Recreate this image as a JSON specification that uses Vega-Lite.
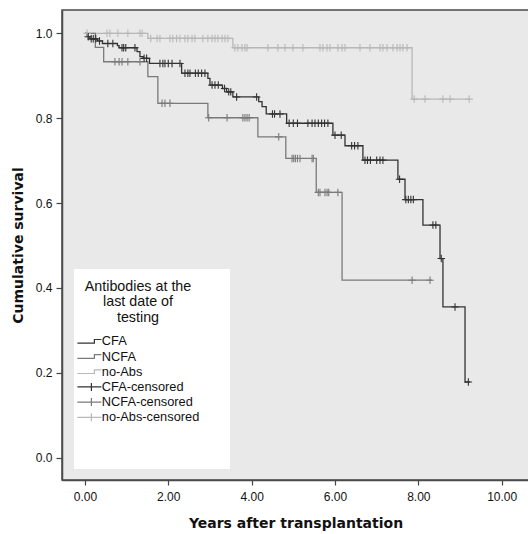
{
  "$schema": "https://vega.github.io/schema/vega-lite/v6.json",
  "width": 467,
  "height": 470,
  "autosize": {"type": "none"},
  "padding": {"left": 62, "top": 10, "right": 0, "bottom": 54},
  "background": "white",
  "config": {
    "view": {"fill": "#e9e9e9", "stroke": "#4a4a4a", "strokeWidth": 1.5},
    "font": "Liberation Sans"
  },
  "datasets": {
    "steps": [
      {"g": "no-Abs", "t": 0, "s": 1}, {"g": "no-Abs", "t": 1.51, "s": 0.988}, {"g": "no-Abs", "t": 3.55, "s": 0.966}, {"g": "no-Abs", "t": 7.85, "s": 0.845}, {"g": "no-Abs", "t": 9.22, "s": 0.845},
      {"g": "NCFA", "t": 0, "s": 1}, {"g": "NCFA", "t": 0.25, "s": 0.967}, {"g": "NCFA", "t": 0.45, "s": 0.933}, {"g": "NCFA", "t": 1.51, "s": 0.898}, {"g": "NCFA", "t": 1.75, "s": 0.835}, {"g": "NCFA", "t": 2.95, "s": 0.801}, {"g": "NCFA", "t": 4.15, "s": 0.756}, {"g": "NCFA", "t": 4.82, "s": 0.705}, {"g": "NCFA", "t": 5.55, "s": 0.625}, {"g": "NCFA", "t": 6.17, "s": 0.418}, {"g": "NCFA", "t": 8.33, "s": 0.418},
      {"g": "CFA", "t": 0, "s": 1}, {"g": "CFA", "t": 0.05, "s": 0.992}, {"g": "CFA", "t": 0.12, "s": 0.987}, {"g": "CFA", "t": 0.3, "s": 0.982}, {"g": "CFA", "t": 0.42, "s": 0.976}, {"g": "CFA", "t": 0.78, "s": 0.971}, {"g": "CFA", "t": 0.82, "s": 0.966}, {"g": "CFA", "t": 1.25, "s": 0.957}, {"g": "CFA", "t": 1.32, "s": 0.945}, {"g": "CFA", "t": 1.4, "s": 0.941}, {"g": "CFA", "t": 1.55, "s": 0.929}, {"g": "CFA", "t": 2.32, "s": 0.906}, {"g": "CFA", "t": 2.95, "s": 0.894}, {"g": "CFA", "t": 3.0, "s": 0.878}, {"g": "CFA", "t": 3.3, "s": 0.87}, {"g": "CFA", "t": 3.4, "s": 0.862}, {"g": "CFA", "t": 3.55, "s": 0.85}, {"g": "CFA", "t": 4.17, "s": 0.839}, {"g": "CFA", "t": 4.25, "s": 0.827}, {"g": "CFA", "t": 4.35, "s": 0.81}, {"g": "CFA", "t": 4.84, "s": 0.788}, {"g": "CFA", "t": 5.95, "s": 0.76}, {"g": "CFA", "t": 6.24, "s": 0.735}, {"g": "CFA", "t": 6.67, "s": 0.701}, {"g": "CFA", "t": 7.51, "s": 0.656}, {"g": "CFA", "t": 7.68, "s": 0.608}, {"g": "CFA", "t": 8.11, "s": 0.548}, {"g": "CFA", "t": 8.52, "s": 0.469}, {"g": "CFA", "t": 8.59, "s": 0.355}, {"g": "CFA", "t": 9.12, "s": 0.178}, {"g": "CFA", "t": 9.24, "s": 0.178}
    ],
    "censors": [
      {"g": "no-Abs-censored", "t": 0.05, "s": 1}, {"g": "no-Abs-censored", "t": 0.53, "s": 1}, {"g": "no-Abs-censored", "t": 0.6, "s": 1}, {"g": "no-Abs-censored", "t": 0.79, "s": 1}, {"g": "no-Abs-censored", "t": 1.03, "s": 1}, {"g": "no-Abs-censored", "t": 1.32, "s": 1}, {"g": "no-Abs-censored", "t": 1.37, "s": 1},
      {"g": "no-Abs-censored", "t": 1.58, "s": 0.988}, {"g": "no-Abs-censored", "t": 1.73, "s": 0.988}, {"g": "no-Abs-censored", "t": 1.8, "s": 0.988}, {"g": "no-Abs-censored", "t": 2.04, "s": 0.988}, {"g": "no-Abs-censored", "t": 2.11, "s": 0.988}, {"g": "no-Abs-censored", "t": 2.2, "s": 0.988}, {"g": "no-Abs-censored", "t": 2.28, "s": 0.988}, {"g": "no-Abs-censored", "t": 2.4, "s": 0.988}, {"g": "no-Abs-censored", "t": 2.47, "s": 0.988}, {"g": "no-Abs-censored", "t": 2.57, "s": 0.988}, {"g": "no-Abs-censored", "t": 2.64, "s": 0.988}, {"g": "no-Abs-censored", "t": 2.83, "s": 0.988}, {"g": "no-Abs-censored", "t": 2.95, "s": 0.988}, {"g": "no-Abs-censored", "t": 3.05, "s": 0.988}, {"g": "no-Abs-censored", "t": 3.12, "s": 0.988}, {"g": "no-Abs-censored", "t": 3.19, "s": 0.988}, {"g": "no-Abs-censored", "t": 3.29, "s": 0.988}, {"g": "no-Abs-censored", "t": 3.36, "s": 0.988}, {"g": "no-Abs-censored", "t": 3.43, "s": 0.988},
      {"g": "no-Abs-censored", "t": 3.6, "s": 0.966}, {"g": "no-Abs-censored", "t": 3.67, "s": 0.966}, {"g": "no-Abs-censored", "t": 3.77, "s": 0.966}, {"g": "no-Abs-censored", "t": 3.84, "s": 0.966}, {"g": "no-Abs-censored", "t": 3.89, "s": 0.966}, {"g": "no-Abs-censored", "t": 4.39, "s": 0.966}, {"g": "no-Abs-censored", "t": 4.63, "s": 0.966}, {"g": "no-Abs-censored", "t": 4.8, "s": 0.966}, {"g": "no-Abs-censored", "t": 4.99, "s": 0.966}, {"g": "no-Abs-censored", "t": 5.23, "s": 0.966}, {"g": "no-Abs-censored", "t": 5.64, "s": 0.966}, {"g": "no-Abs-censored", "t": 5.71, "s": 0.966}, {"g": "no-Abs-censored", "t": 5.81, "s": 0.966}, {"g": "no-Abs-censored", "t": 5.88, "s": 0.966}, {"g": "no-Abs-censored", "t": 6.07, "s": 0.966}, {"g": "no-Abs-censored", "t": 6.17, "s": 0.966}, {"g": "no-Abs-censored", "t": 6.24, "s": 0.966}, {"g": "no-Abs-censored", "t": 6.6, "s": 0.966}, {"g": "no-Abs-censored", "t": 6.84, "s": 0.966}, {"g": "no-Abs-censored", "t": 7.08, "s": 0.966}, {"g": "no-Abs-censored", "t": 7.15, "s": 0.966}, {"g": "no-Abs-censored", "t": 7.25, "s": 0.966}, {"g": "no-Abs-censored", "t": 7.39, "s": 0.966}, {"g": "no-Abs-censored", "t": 7.49, "s": 0.966}, {"g": "no-Abs-censored", "t": 7.56, "s": 0.966}, {"g": "no-Abs-censored", "t": 7.63, "s": 0.966}, {"g": "no-Abs-censored", "t": 7.73, "s": 0.966},
      {"g": "no-Abs-censored", "t": 7.9, "s": 0.845}, {"g": "no-Abs-censored", "t": 8.16, "s": 0.845}, {"g": "no-Abs-censored", "t": 8.59, "s": 0.845}, {"g": "no-Abs-censored", "t": 8.76, "s": 0.845}, {"g": "no-Abs-censored", "t": 9.22, "s": 0.845},
      {"g": "NCFA-censored", "t": 0.72, "s": 0.933}, {"g": "NCFA-censored", "t": 0.82, "s": 0.933}, {"g": "NCFA-censored", "t": 0.89, "s": 0.933}, {"g": "NCFA-censored", "t": 1.03, "s": 0.933}, {"g": "NCFA-censored", "t": 1.32, "s": 0.933},
      {"g": "NCFA-censored", "t": 1.85, "s": 0.835}, {"g": "NCFA-censored", "t": 1.92, "s": 0.835}, {"g": "NCFA-censored", "t": 2.04, "s": 0.835},
      {"g": "NCFA-censored", "t": 2.97, "s": 0.801}, {"g": "NCFA-censored", "t": 3.41, "s": 0.801}, {"g": "NCFA-censored", "t": 3.79, "s": 0.801}, {"g": "NCFA-censored", "t": 3.84, "s": 0.801}, {"g": "NCFA-censored", "t": 3.89, "s": 0.801}, {"g": "NCFA-censored", "t": 3.94, "s": 0.801},
      {"g": "NCFA-censored", "t": 4.65, "s": 0.756},
      {"g": "NCFA-censored", "t": 4.97, "s": 0.705}, {"g": "NCFA-censored", "t": 5.01, "s": 0.705}, {"g": "NCFA-censored", "t": 5.05, "s": 0.705}, {"g": "NCFA-censored", "t": 5.1, "s": 0.705}, {"g": "NCFA-censored", "t": 5.16, "s": 0.705}, {"g": "NCFA-censored", "t": 5.45, "s": 0.705}, {"g": "NCFA-censored", "t": 5.48, "s": 0.705},
      {"g": "NCFA-censored", "t": 5.6, "s": 0.625}, {"g": "NCFA-censored", "t": 5.64, "s": 0.625}, {"g": "NCFA-censored", "t": 5.76, "s": 0.625}, {"g": "NCFA-censored", "t": 5.81, "s": 0.625}, {"g": "NCFA-censored", "t": 5.85, "s": 0.625}, {"g": "NCFA-censored", "t": 6.07, "s": 0.625},
      {"g": "NCFA-censored", "t": 7.85, "s": 0.418}, {"g": "NCFA-censored", "t": 8.28, "s": 0.418},
      {"g": "CFA-censored", "t": 0.08, "s": 0.992}, {"g": "CFA-censored", "t": 0.15, "s": 0.987}, {"g": "CFA-censored", "t": 0.2, "s": 0.987}, {"g": "CFA-censored", "t": 0.26, "s": 0.987}, {"g": "CFA-censored", "t": 0.35, "s": 0.982}, {"g": "CFA-censored", "t": 0.55, "s": 0.976}, {"g": "CFA-censored", "t": 0.67, "s": 0.976}, {"g": "CFA-censored", "t": 0.89, "s": 0.966}, {"g": "CFA-censored", "t": 0.93, "s": 0.966}, {"g": "CFA-censored", "t": 0.98, "s": 0.966}, {"g": "CFA-censored", "t": 1.2, "s": 0.966}, {"g": "CFA-censored", "t": 1.42, "s": 0.941}, {"g": "CFA-censored", "t": 1.48, "s": 0.941},
      {"g": "CFA-censored", "t": 1.8, "s": 0.929}, {"g": "CFA-censored", "t": 1.87, "s": 0.929}, {"g": "CFA-censored", "t": 1.92, "s": 0.929}, {"g": "CFA-censored", "t": 2.0, "s": 0.929}, {"g": "CFA-censored", "t": 2.09, "s": 0.929}, {"g": "CFA-censored", "t": 2.28, "s": 0.929},
      {"g": "CFA-censored", "t": 2.4, "s": 0.906}, {"g": "CFA-censored", "t": 2.47, "s": 0.906}, {"g": "CFA-censored", "t": 2.52, "s": 0.906}, {"g": "CFA-censored", "t": 2.65, "s": 0.906}, {"g": "CFA-censored", "t": 2.72, "s": 0.906}, {"g": "CFA-censored", "t": 2.8, "s": 0.906}, {"g": "CFA-censored", "t": 2.88, "s": 0.906},
      {"g": "CFA-censored", "t": 3.05, "s": 0.878}, {"g": "CFA-censored", "t": 3.12, "s": 0.878}, {"g": "CFA-censored", "t": 3.2, "s": 0.878}, {"g": "CFA-censored", "t": 3.35, "s": 0.87}, {"g": "CFA-censored", "t": 3.45, "s": 0.862}, {"g": "CFA-censored", "t": 3.5, "s": 0.862}, {"g": "CFA-censored", "t": 3.64, "s": 0.85}, {"g": "CFA-censored", "t": 4.12, "s": 0.85},
      {"g": "CFA-censored", "t": 4.5, "s": 0.81}, {"g": "CFA-censored", "t": 4.55, "s": 0.81}, {"g": "CFA-censored", "t": 4.68, "s": 0.81},
      {"g": "CFA-censored", "t": 4.9, "s": 0.788}, {"g": "CFA-censored", "t": 5.0, "s": 0.788}, {"g": "CFA-censored", "t": 5.1, "s": 0.788}, {"g": "CFA-censored", "t": 5.35, "s": 0.788}, {"g": "CFA-censored", "t": 5.45, "s": 0.788}, {"g": "CFA-censored", "t": 5.52, "s": 0.788}, {"g": "CFA-censored", "t": 5.6, "s": 0.788}, {"g": "CFA-censored", "t": 5.68, "s": 0.788}, {"g": "CFA-censored", "t": 5.75, "s": 0.788}, {"g": "CFA-censored", "t": 5.83, "s": 0.788},
      {"g": "CFA-censored", "t": 6.0, "s": 0.76}, {"g": "CFA-censored", "t": 6.15, "s": 0.76}, {"g": "CFA-censored", "t": 6.4, "s": 0.735}, {"g": "CFA-censored", "t": 6.47, "s": 0.735}, {"g": "CFA-censored", "t": 6.55, "s": 0.735},
      {"g": "CFA-censored", "t": 6.72, "s": 0.701}, {"g": "CFA-censored", "t": 6.78, "s": 0.701}, {"g": "CFA-censored", "t": 6.85, "s": 0.701}, {"g": "CFA-censored", "t": 7.0, "s": 0.701}, {"g": "CFA-censored", "t": 7.08, "s": 0.701}, {"g": "CFA-censored", "t": 7.15, "s": 0.701},
      {"g": "CFA-censored", "t": 7.55, "s": 0.656}, {"g": "CFA-censored", "t": 7.7, "s": 0.608}, {"g": "CFA-censored", "t": 7.76, "s": 0.608}, {"g": "CFA-censored", "t": 7.82, "s": 0.608}, {"g": "CFA-censored", "t": 7.88, "s": 0.608},
      {"g": "CFA-censored", "t": 8.35, "s": 0.548}, {"g": "CFA-censored", "t": 8.42, "s": 0.548}, {"g": "CFA-censored", "t": 8.55, "s": 0.469}, {"g": "CFA-censored", "t": 8.88, "s": 0.355}, {"g": "CFA-censored", "t": 9.2, "s": 0.178}
    ]
  },
  "encoding": {
    "x": {
      "field": "t", "type": "quantitative",
      "scale": {"domain": [-0.55, 10.655], "nice": false, "zero": false},
      "axis": {
        "title": "Years after transplantation",
        "values": [0, 2, 4, 6, 8, 10], "format": ".2f", "grid": false,
        "labelFont": "Liberation Sans", "labelFontSize": 12, "labelColor": "#111111", "labelPadding": 6, "labelFlush": false,
        "tickSize": 5, "tickColor": "#444444", "tickWidth": 1.2,
        "domainColor": "#4a4a4a", "domainWidth": 1.5,
        "titleFont": "DejaVu Sans", "titleFontSize": 14, "titleFontWeight": "bold", "titleColor": "#111111", "titlePadding": 14
      }
    },
    "y": {
      "field": "s", "type": "quantitative",
      "scale": {"domain": [-0.053, 1.055], "nice": false, "zero": false},
      "axis": {
        "title": "Cumulative survival",
        "values": [0, 0.2, 0.4, 0.6, 0.8, 1.0], "format": ".1f", "grid": false,
        "labelFont": "Liberation Sans", "labelFontSize": 12, "labelColor": "#111111", "labelPadding": 4,
        "tickSize": 6, "tickColor": "#444444", "tickWidth": 1.2,
        "domainColor": "#4a4a4a", "domainWidth": 1.5,
        "titleFont": "DejaVu Sans", "titleFontSize": 14, "titleFontWeight": "bold", "titleColor": "#111111", "titlePadding": 10
      }
    },
    "color": {
      "field": "g", "type": "nominal",
      "scale": {
        "domain": ["CFA", "NCFA", "no-Abs", "CFA-censored", "NCFA-censored", "no-Abs-censored"],
        "range": ["#333333", "#7a7a7a", "#b8b8b8", "#333333", "#7a7a7a", "#b8b8b8"]
      },
      "legend": {
        "orient": "none", "legendX": 12, "legendY": 259,
        "title": ["Antibodies at the", "last date of", "testing"],
        "titleFont": "Liberation Sans", "titleFontSize": 14.3, "titleFontWeight": "normal", "titleColor": "#111111",
        "titleAnchor": "middle", "titleAlign": "center", "titleLineHeight": 15.3, "titlePadding": 14,
        "fillColor": "white", "padding": 7,
        "labelFont": "Liberation Sans", "labelFontSize": 12.8, "labelColor": "#111111", "labelOffset": 8,
        "symbolSize": 64, "rowPadding": 1.2,
        "encode": {
          "title": {"update": {"dx": {"value": -14}, "dy": {"value": 4}}},
          "symbols": {
            "update": {
              "shape": {"signal": "datum.value === 'no-Abs-censored' ? 'M-2.5,0H3.5M1,-1V1M33.2,10.4' : (indexof(['CFA','NCFA','no-Abs'], datum.value) >= 0 ? 'M-2.5,0.45H1.75V-0.45H3.5' : 'M-2.5,0H3.5M1,-1V1')"},
              "fill": {"value": "transparent"},
              "stroke": {"scale": "color", "field": "value"},
              "strokeWidth": {"value": 1.2},
              "opacity": {"value": 1}
            }
          }
        }
      }
    }
  },
  "layer": [
    {
      "data": {"name": "steps"},
      "mark": {"type": "line", "interpolate": "step-after", "strokeWidth": 1.3}
    },
    {
      "data": {"name": "censors"},
      "mark": {"type": "point", "shape": "M-1,0H1M0,-1V1", "filled": false, "size": 56, "strokeWidth": 1.1, "opacity": 1}
    }
  ]
}
